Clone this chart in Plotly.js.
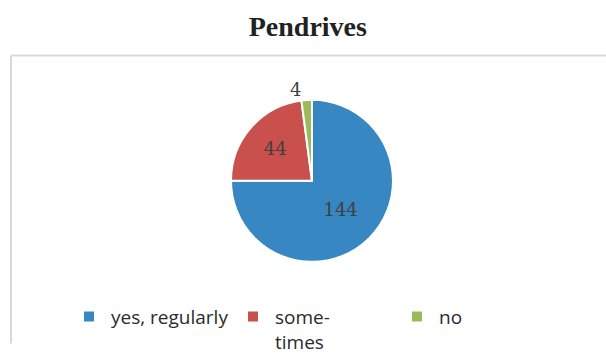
<!DOCTYPE html>
<html>
<head>
<meta charset="utf-8">
<script src="https://cdn.plot.ly/plotly-3.0.1.min.js"></script>
<style>html,body{margin:0;padding:0;background:#fff;}#chart{width:606px;height:361px;}</style>
</head>
<body>
<div id="chart"></div>
<script>
const chartTitle = "Pendrives";
const categories = ["yes, regularly", "some-<br>times", "no"];
const values = [144, 44, 4];
const colors = ["#3787C2", "#C9504C", "#9BBB59"];
const textPositions = ["inside", "inside", "outside"];

const W = 606, H = 361;
const cx = 312, cy = 192, r = 86;

const trace = {
  type: "pie",
  labels: categories,
  values: values,
  sort: false,
  direction: "clockwise",
  rotation: 0,
  marker: {colors: colors, line: {color: "#ffffff", width: 2}},
  textinfo: "value",
  textposition: textPositions,
  insidetextorientation: "horizontal",
  textfont: {family: "DejaVu Serif, serif", size: 18, color: "#404040"},
  outsidetextfont: {family: "DejaVu Serif, serif", size: 18, color: "#404040"},
  hoverinfo: "label+value",
  domain: {x: [(cx - r) / W, (cx + r) / W], y: [(H - cy - r) / H, (H - cy + r) / H]}
};

const layout = {
  width: W, height: H,
  margin: {l: 0, r: 0, t: 0, b: 0},
  paper_bgcolor: "#ffffff",
  title: {text: "<b>" + chartTitle + "</b>", font: {family: "Liberation Serif, Times New Roman, serif", size: 28, color: "#222222"}, x: 0.508, xanchor: "center", y: 1 - 26 / H, yanchor: "middle"},
  showlegend: true,
  legend: {
    orientation: "h",
    x: 67 / W, xanchor: "left",
    y: 1 - 316 / H, yanchor: "top",
    font: {family: "Open Sans, Lato, sans-serif", size: 19, color: "#2b2b2b"},
    itemwidth: 34,
    entrywidth: 115,
    entrywidthmode: "pixels",
    traceorder: "normal",
    valign: "top"
  },
  shapes: [
    {type: "line", xref: "paper", yref: "paper", x0: 11 / W, x1: 1.01, y0: 1 - 59 / H, y1: 1 - 59 / H, line: {color: "#d9d9d9", width: 2}},
    {type: "line", xref: "paper", yref: "paper", x0: 11 / W, x1: 11 / W, y0: 1 - 59 / H, y1: -0.01, line: {color: "#d9d9d9", width: 2}}
  ]
};

Plotly.newPlot("chart", [trace], layout, {displayModeBar: false, staticPlot: true});
</script>
</body>
</html>
